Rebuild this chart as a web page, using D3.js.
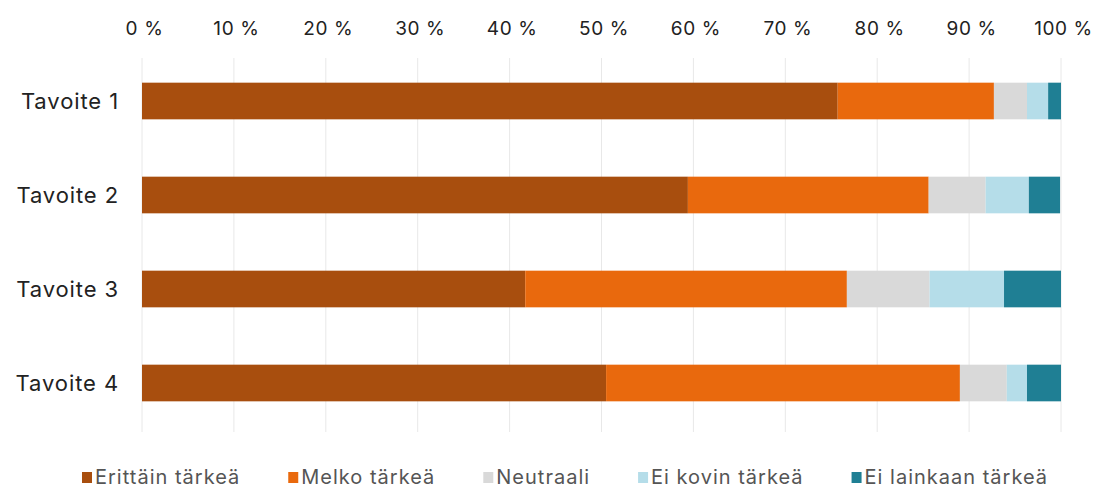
<!DOCTYPE html>
<html><head><meta charset="utf-8">
<script src="https://cdn.jsdelivr.net/npm/d3@7"></script>
<style>body{margin:0;background:#fff}svg{display:block}text{font-family:Inter,"Noto Sans",sans-serif}</style>
</head><body><svg id="c" width="1093" height="491"></svg>
<script>
const categories = ["Tavoite 1","Tavoite 2","Tavoite 3","Tavoite 4"];
const seriesNames = ["Erittäin tärkeä","Melko tärkeä","Neutraali","Ei kovin tärkeä","Ei lainkaan tärkeä"];
const erittain = [75.7, 59.4, 41.7, 50.5];
const melko = [17.0, 26.2, 35.0, 38.5];
const neutraali = [3.6, 6.2, 9.0, 5.1];
const eiKovin = [2.3, 4.7, 8.1, 2.2];
const eiLainkaan = [1.4, 3.4, 6.2, 3.7];
const tickValues = [0,10,20,30,40,50,60,70,80,90,100];
const colors = ["#a84e0e","#e9690d","#d9d9d9","#b5dde9","#1f7f94"];

const seriesData = [erittain, melko, neutraali, eiKovin, eiLainkaan];
const rows = categories.map((c,i)=>{const o={cat:c}; seriesNames.forEach((s,j)=>o[s]=seriesData[j][i]); return o;});
const stacked = d3.stack().keys(seriesNames)(rows);

const svg = d3.select("#c");
const x = d3.scaleLinear().domain([0,100]).range([142,1061]);
const y = d3.scaleBand().domain(categories).range([54,430]).paddingInner(0.61).paddingOuter(0.305);

// gridlines
svg.append("g").selectAll("line").data(tickValues).join("line")
  .attr("x1",d=>x(d)).attr("x2",d=>x(d)).attr("y1",58).attr("y2",432)
  .attr("stroke","#e8e8e8").attr("stroke-width",1);

// axis labels top
const ax = svg.append("g").attr("transform","translate(2,35)")
  .call(d3.axisTop(x).tickValues(tickValues).tickFormat(d=>d+" %").tickSize(0).tickPadding(0));
ax.select(".domain").remove();
ax.selectAll("text").attr("font-size",19).attr("letter-spacing","0.6px").attr("fill","#222");

// bars
svg.append("g").selectAll("g").data(stacked).join("g").attr("fill",(d,i)=>colors[i])
  .selectAll("rect").data(d=>d).join("rect")
  .attr("x",d=>x(d[0])).attr("width",d=>x(d[1])-x(d[0]))
  .attr("y",d=>y(d.data.cat)).attr("height",y.bandwidth());

// category labels
const ya = svg.append("g").attr("transform","translate(119,1)")
  .call(d3.axisLeft(y).tickSize(0).tickPadding(0));
ya.select(".domain").remove();
ya.selectAll("text").attr("font-size",22).attr("letter-spacing","0.9px").attr("fill","#222");

// legend
const lg = svg.append("g");
const items = lg.selectAll("g").data(seriesNames).join("g");
let cx = 82;
items.each(function(d,i){
  const g = d3.select(this);
  g.append("rect").attr("x",0).attr("y",472).attr("width",10).attr("height",11).attr("fill",colors[i]);
  const t = g.append("text").attr("x",13).attr("y",484).attr("font-size",20).attr("letter-spacing","1px").attr("fill","#555").text(d);
  g.attr("transform",`translate(${cx},0)`);
  cx += 13 + t.node().getComputedTextLength() + 48;
});
</script></body></html>
